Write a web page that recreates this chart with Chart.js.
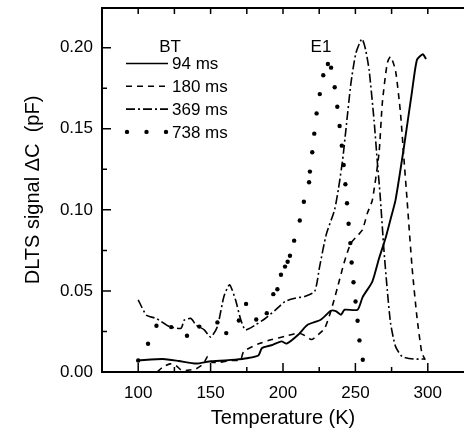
<!DOCTYPE html>
<html>
<head>
<meta charset="utf-8">
<script src="https://cdn.jsdelivr.net/npm/chart.js@4/dist/chart.umd.min.js"></script>
<style>
  html, body { margin: 0; padding: 0; background: #fff; overflow: hidden; }
  #wrap { width: 464px; height: 435px; overflow: hidden; }
  #box { width: 468px; height: 435px; position: relative; }
</style>
</head>
<body>
<div id="wrap"><div id="box"><canvas id="dlts"></canvas></div></div>
<script>
// tick positions
const xTicks = [100, 150, 200, 250, 300];
const xMinor = [125, 175, 225, 275];
const yTicks = [0, 0.05, 0.10, 0.15, 0.20];
const yMinor = [0.025, 0.075, 0.125, 0.175];

// legend names
const seriesNames = ['94 ms', '180 ms', '369 ms', '738 ms'];

// 94 ms (solid)
const solidT = [100, 117, 128, 140, 149, 160, 167, 175, 183, 185.5, 192, 199, 202.5, 210.5, 217, 226, 233, 236.5, 240, 242.5, 251.5, 255, 261.7, 266.3, 270.8, 274.5, 277.7, 283.4, 289.1, 292.5, 296.6, 298.8];
const solidV = [0.0071, 0.008, 0.0068, 0.0052, 0.0065, 0.0071, 0.0076, 0.0085, 0.0102, 0.0148, 0.0165, 0.0189, 0.0175, 0.023, 0.0291, 0.0322, 0.0378, 0.0375, 0.0353, 0.0384, 0.0384, 0.0462, 0.0558, 0.070, 0.0825, 0.095, 0.106, 0.138, 0.173, 0.1925, 0.196, 0.193];

// 180 ms (dashed)
const dashT = [113, 117, 122, 126, 130, 134, 140, 145, 148, 151, 156, 163, 170.6, 172.9, 183.2, 192.3, 201.4, 210.5, 214, 219.6, 223, 228.8, 233.2, 237.8, 242.4, 246.9, 252, 254.9, 258.3, 261.7, 266.3, 268.6, 272, 274.3, 277.7, 281.1, 283.4, 285.7, 289.1, 292.5, 295.9, 298.2];
const dashV = [0.0, 0.003, 0.005, 0.004, 0.001, 0.001, 0.002, 0.005, 0.0095, 0.006, 0.006, 0.007, 0.0075, 0.0127, 0.0174, 0.020, 0.022, 0.024, 0.023, 0.020, 0.022, 0.027, 0.038, 0.0527, 0.068, 0.0795, 0.0846, 0.0877, 0.098, 0.106, 0.135, 0.166, 0.1905, 0.1945, 0.186, 0.160, 0.133, 0.106, 0.065, 0.034, 0.0117, 0.0076];

// 369 ms (dash-dot)
const ddT = [100, 105.7, 112.6, 121.7, 129.6, 131.8, 136.5, 139.9, 145.6, 150.1, 154.7, 159.2, 163.1, 167.2, 170.6, 174, 180.9, 187.7, 194.5, 201.4, 208.2, 215, 221.9, 225.3, 229.8, 235.6, 238.3, 241.2, 243.5, 246.9, 250.3, 254.5, 257, 259.5, 262.9, 265.2, 267, 269.7, 272, 274.3, 277.7, 282.2, 290.2, 298.2];
const ddV = [0.0445, 0.035, 0.033, 0.028, 0.027, 0.032, 0.033, 0.029, 0.026, 0.0215, 0.028, 0.0466, 0.0538, 0.0445, 0.033, 0.026, 0.029, 0.033, 0.038, 0.0435, 0.0455, 0.0466, 0.0497, 0.065, 0.0846, 0.100, 0.113, 0.131, 0.150, 0.178, 0.1965, 0.2055, 0.199, 0.186, 0.155, 0.129, 0.110, 0.0753, 0.0507, 0.030, 0.0158, 0.0096, 0.008, 0.008];

// 738 ms (dotted, single points)
const dotT = [100, 106.8, 112.6, 122.8, 133.7, 142.2, 154.7, 160.8, 169.5, 174.5, 181.5, 188.8, 193.3, 196.1, 198.6, 201.4, 203.2, 204.8, 207.7, 211.6, 214.4, 218, 218.6, 220.2, 221.6, 223.2, 225.4, 227.8, 231, 233.2, 235.7, 237.5, 239.1, 240.6, 241.9, 243.1, 244.2, 245.3, 246.5, 247.4, 248.7, 250.1, 251.5, 252.8, 255.1];
const dotV = [0.0071, 0.0174, 0.0285, 0.0277, 0.0224, 0.028, 0.0306, 0.024, 0.0318, 0.042, 0.0324, 0.0363, 0.048, 0.051, 0.060, 0.065, 0.068, 0.0717, 0.081, 0.0934, 0.105, 0.117, 0.1236, 0.1355, 0.147, 0.1595, 0.1714, 0.183, 0.190, 0.1877, 0.1756, 0.1636, 0.1517, 0.1396, 0.1277, 0.1158, 0.1041, 0.0914, 0.0795, 0.0675, 0.0554, 0.0435, 0.0316, 0.0195, 0.0076];

const FONT = '"Liberation Sans", Arial, sans-serif';
const dashes = [[], [6, 5], [9, 3, 2, 3], null];

function pts(xs, ys) {
  return xs.map((t, i) => ({x: t, y: ys[i]}));
}

// inward ticks, top frame line, legend box and peak label
const frame = {
  id: 'frame',
  afterDraw(chart) {
    const {ctx, chartArea: a, scales: {x, y}} = chart;
    ctx.save();
    ctx.strokeStyle = '#000';
    ctx.lineWidth = 2;
    ctx.beginPath();
    ctx.moveTo(a.left, a.top);
    ctx.lineTo(a.right, a.top);
    ctx.stroke();

    ctx.lineWidth = 1.5;
    ctx.beginPath();
    xTicks.forEach(v => {
      const px = x.getPixelForValue(v);
      ctx.moveTo(px, a.bottom); ctx.lineTo(px, a.bottom - 9);
      ctx.moveTo(px, a.top); ctx.lineTo(px, a.top + 6);
    });
    xMinor.forEach(v => {
      const px = x.getPixelForValue(v);
      ctx.moveTo(px, a.bottom); ctx.lineTo(px, a.bottom - 5);
      ctx.moveTo(px, a.top); ctx.lineTo(px, a.top + 6);
    });
    yTicks.forEach(v => {
      const py = y.getPixelForValue(v);
      ctx.moveTo(a.left, py); ctx.lineTo(a.left + 9, py);
    });
    yMinor.forEach(v => {
      const py = y.getPixelForValue(v);
      ctx.moveTo(a.left, py); ctx.lineTo(a.left + 5, py);
    });
    ctx.stroke();

    // legend
    ctx.fillStyle = '#000';
    ctx.font = '17px ' + FONT;
    ctx.textBaseline = 'middle';
    ctx.textAlign = 'center';
    ctx.fillText('BT', 170, 47);
    ctx.fillText('E1', 321, 47);
    ctx.textAlign = 'left';
    seriesNames.forEach((name, i) => {
      const ly = 63.5 + i * 22.8;
      if (dashes[i]) {
        ctx.lineWidth = 1.6;
        ctx.setLineDash(dashes[i]);
        ctx.beginPath();
        ctx.moveTo(126, ly); ctx.lineTo(168, ly);
        ctx.stroke();
        ctx.setLineDash([]);
      } else {
        [127, 146.5, 166].forEach(dx => {
          ctx.beginPath();
          ctx.arc(dx, ly, 2.2, 0, Math.PI * 2);
          ctx.fill();
        });
      }
      ctx.fillText(name, 172, ly + 1);
    });
    ctx.restore();
  }
};

new Chart(document.getElementById('dlts'), {
  type: 'scatter',
  data: {
    datasets: [
      {label: seriesNames[0], data: pts(solidT, solidV), showLine: true, borderColor: '#000', borderWidth: 1.9, pointRadius: 0, tension: 0.2},
      {label: seriesNames[1], data: pts(dashT, dashV), showLine: true, borderColor: '#000', borderWidth: 1.6, borderDash: dashes[1], pointRadius: 0, tension: 0.2},
      {label: seriesNames[2], data: pts(ddT, ddV), showLine: true, borderColor: '#000', borderWidth: 1.6, borderDash: dashes[2], pointRadius: 0, tension: 0.2},
      {label: seriesNames[3], data: pts(dotT, dotV), showLine: false, pointRadius: 2.2, pointBackgroundColor: '#000', pointBorderWidth: 0}
    ]
  },
  options: {
    responsive: true,
    maintainAspectRatio: false,
    animation: false,
    devicePixelRatio: 1,
    layout: {padding: {top: 8, right: 0, bottom: 0, left: 0}},
    plugins: {legend: {display: false}, tooltip: {enabled: false}},
    scales: {
      x: {
        type: 'linear', position: 'bottom', min: 75, max: 325,
        afterBuildTicks: s => { s.ticks = xTicks.map(v => ({value: v})); },
        afterFit: s => { s.height = 63; s.paddingLeft = 0; s.paddingRight = 0; },
        grid: {display: false, drawTicks: false},
        border: {display: true, color: '#000', width: 2},
        ticks: {color: '#000', font: {family: FONT, size: 17}, padding: 11, maxRotation: 0, autoSkip: false},
        title: {display: true, text: 'Temperature (K)', color: '#000', font: {family: FONT, size: 20}, padding: {top: 0, bottom: 5}}
      },
      y: {
        type: 'linear', position: 'left', min: 0, max: 0.2245,
        afterBuildTicks: s => { s.ticks = yTicks.map(v => ({value: v})); },
        afterFit: s => { s.width = 102; s.paddingTop = 0; s.paddingBottom = 0; },
        grid: {display: false, drawTicks: false},
        border: {display: true, color: '#000', width: 2},
        ticks: {color: '#000', font: {family: FONT, size: 17}, padding: 9, callback: v => v.toFixed(2)},
        title: {display: true, text: 'DLTS signal \u0394C  (pF)', color: '#000', font: {family: FONT, size: 20}, padding: {top: 21, bottom: 0}}
      }
    }
  },
  plugins: [frame]
});
</script>
</body>
</html>
